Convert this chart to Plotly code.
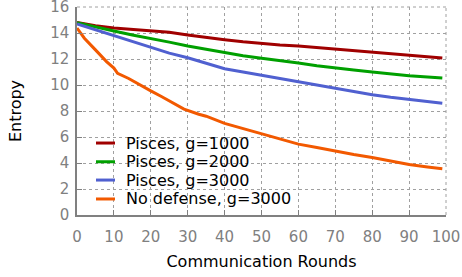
import plotly.graph_objects as go

rounds = [0, 5, 10, 15, 20, 25, 30, 35, 40, 45, 50, 55, 60, 65, 70, 75, 80, 85, 90, 95, 99]
pisces_1000 = [14.8, 14.55, 14.38, 14.28, 14.2, 14.05, 13.85, 13.65, 13.48, 13.32, 13.18,
               13.08, 13.0, 12.88, 12.77, 12.65, 12.52, 12.4, 12.26, 12.15, 12.07]
pisces_2000 = [14.8, 14.45, 14.15, 13.85, 13.6, 13.3, 13.0, 12.75, 12.46, 12.25, 12.05,
               11.88, 11.7, 11.48, 11.3, 11.15, 11.0, 10.85, 10.72, 10.62, 10.53]
pisces_3000 = [14.7, 14.25, 13.8, 13.3, 12.85, 12.45, 12.1, 11.65, 11.25, 11.0, 10.75,
               10.45, 10.2, 9.95, 9.7, 9.45, 9.25, 9.05, 8.88, 8.72, 8.6]
nodef_rounds = [0, 2, 5, 8, 10, 11, 14, 17, 20, 23, 25, 29, 33, 35, 40, 45, 50, 55, 60,
                65, 70, 75, 80, 85, 90, 95, 99]
nodef_3000 = [14.38, 13.6, 12.7, 11.8, 11.3, 10.9, 10.5, 10.0, 9.55, 9.1, 8.8, 8.15, 7.75,
              7.6, 7.05, 6.65, 6.2, 5.85, 5.45, 5.2, 4.9, 4.65, 4.42, 4.15, 3.88, 3.7, 3.56]

names = ["Pisces, g=1000", "Pisces, g=2000", "Pisces, g=3000", "No defense, g=3000"]
colors = ["#A00000", "#00A000", "#5060D0", "#F25900"]

fig = go.Figure()
series = [(rounds, pisces_1000), (rounds, pisces_2000), (rounds, pisces_3000),
          (nodef_rounds, nodef_3000)]
for (xs, ys), name, color in zip(series, names, colors):
    fig.add_trace(go.Scatter(x=xs, y=ys, mode="lines", name=name,
                             line=dict(color=color, width=3), showlegend=False))

# compact legend (key lines + labels) in the lower-left corner of the plot area
legend_rows_y = [0.346, 0.256, 0.168, 0.077]
for name, color, ly in zip(names, colors, legend_rows_y):
    fig.add_shape(type="line", xref="paper", yref="paper", x0=0.0515, x1=0.103,
                  y0=ly, y1=ly, line=dict(color=color, width=3))
    fig.add_annotation(xref="paper", yref="paper", x=0.128, y=ly, text=name,
                       showarrow=False, xanchor="left", yanchor="middle",
                       font=dict(family="DejaVu Sans", size=16, color="black"))

grid_color = "#a0a0a0"
axis_common = dict(
    showline=True, linecolor="#808080", linewidth=1.5,
    ticks="inside", ticklen=5, tickcolor="#808080", tickwidth=1,
    showgrid=True, gridcolor=grid_color, griddash="dot", gridwidth=1,
    zeroline=False, automargin=False, ticklabeloverflow="allow",
    tickfont=dict(family="DejaVu Sans", size=15, color="#808080"),
)

# dotted grid lines at the top and right edges of the plot area
fig.add_shape(type="line", xref="paper", yref="paper", x0=0, x1=1, y0=1, y1=1,
              line=dict(color=grid_color, width=1, dash="dot"), layer="below")
fig.add_shape(type="line", xref="paper", yref="paper", x0=1, x1=1, y0=0, y1=1,
              line=dict(color=grid_color, width=1, dash="dot"), layer="below")

fig.update_layout(
    width=462, height=277,
    margin=dict(l=77, r=16, t=7, b=62),
    plot_bgcolor="white", paper_bgcolor="white",
    font=dict(family="DejaVu Sans", size=16, color="black"),
    xaxis=dict(range=[0, 100], dtick=10, tick0=0, ticklabelstandoff=7,
               title=dict(text="Communication Rounds", font=dict(size=16), standoff=11),
               **axis_common),
    yaxis=dict(range=[0, 16], dtick=2, tick0=0, ticklabelstandoff=3,
               title=dict(text="Entropy", font=dict(size=16), standoff=25),
               **axis_common),
    showlegend=False,
)

fig.write_html("out.html", config={"displayModeBar": False},
               post_script="document.body.style.margin='0';")
